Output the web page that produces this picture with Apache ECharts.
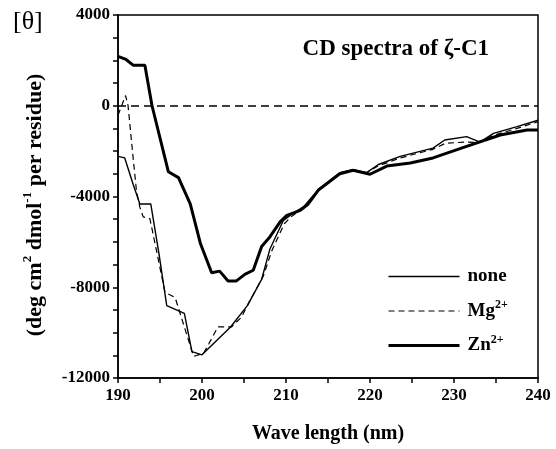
<!DOCTYPE html>
<html><head><meta charset="utf-8">
<script src="https://cdn.jsdelivr.net/npm/echarts@6/dist/echarts.min.js"></script>
<style>html,body{margin:0;padding:0;background:#fff}#c{width:556px;height:449px}</style>
</head><body><div id="c"></div>
<script>
// ---- data ----
const xTicks = [190, 200, 210, 220, 230, 240];
const yTicks = [4000, 0, -4000, -8000, -12000];

const noneNm  = [190, 190.8, 191.8, 192.6, 193.9, 194.9, 195.8, 197.9, 198.8, 200.0, 203.4, 205.4, 207.1, 208.1, 209.7, 210.5, 212.1, 213.9, 216.4, 218.0, 219.6, 221.0, 223.6, 227.5, 228.9, 231.5, 233.1, 234.7, 237.5, 240];
const noneVal = [-2230, -2300, -3460, -4330, -4330, -6570, -8810, -9150, -10840, -10980, -9750, -8810, -7650, -6300, -5050, -4830, -4450, -3680, -2950, -2810, -2950, -2590, -2230, -1870, -1510, -1360, -1600, -1220, -920, -640];

const mgNm  = [190, 190.9, 191.2, 191.8, 192.2, 192.6, 193.0, 193.8, 195.6, 196.8, 199.0, 200.2, 200.8, 201.9, 203.5, 204.7, 205.7, 207.3, 208.3, 209.8, 210.6, 212.1, 213.9, 216.4, 218.0, 219.6, 221.0, 223.6, 227.5, 229.0, 231.5, 233.1, 234.7, 237.5, 240];
const mgVal = [-420, 450, 0, -2300, -3750, -4470, -4900, -4980, -8230, -8450, -11050, -10900, -10500, -9750, -9750, -9320, -8590, -7510, -6400, -5200, -4900, -4500, -3720, -3000, -2850, -2950, -2650, -2300, -1920, -1650, -1600, -1620, -1300, -1000, -700];

const znNm  = [190, 190.95, 191.8, 193.2, 194.05, 196.0, 197.2, 198.6, 199.8, 201.15, 202.1, 203.1, 204.1, 205.1, 206.1, 207.1, 208.1, 209.3, 210.1, 211.7, 212.65, 213.9, 216.4, 218.0, 220.0, 222.0, 224.8, 227.5, 231.5, 235.5, 238.7, 240];
const znVal = [2180, 2040, 1790, 1790, 0, -2910, -3170, -4330, -6060, -7360, -7290, -7720, -7720, -7430, -7250, -6200, -5770, -5120, -4830, -4610, -4330, -3700, -3000, -2850, -3020, -2660, -2520, -2300, -1790, -1290, -1070, -1070];

const seriesNames = ['none', 'Mg2+', 'Zn2+'];
// ---- chart ----
const zip = (a, b) => a.map((v, i) => [v, b[i]]);
const serif = '"Liberation Serif", "DejaVu Serif", serif';
const supStyle = {fontFamily: serif, fontWeight: 'bold', fontSize: 12, padding: [0, 0, 12, 0], color: '#000'};
const chart = echarts.init(document.getElementById('c'), null, {renderer: 'canvas'});
chart.setOption({
  animation: false,
  backgroundColor: '#fff',
  grid: {left: 118, right: 18, top: 15, bottom: 66, show: true, borderColor: '#000', borderWidth: 1.5, backgroundColor: 'transparent'},
  title: {
    text: 'CD spectra of ζ-C1', right: 62, top: 33,
    textStyle: {fontFamily: serif, fontWeight: 'bold', fontSize: 23, color: '#000'}
  },
  legend: {
    orient: 'vertical', left: 382, top: 262, itemWidth: 71, itemHeight: 14, itemGap: 13,
    itemStyle: {opacity: 0},
    data: [
      {name: seriesNames[0], lineStyle: {width: 1.6}},
      {name: seriesNames[1], lineStyle: {width: 1.2}},
      {name: seriesNames[2], lineStyle: {width: 3}}
    ],
    formatter: function (n) {
      if (n === 'Mg2+') return 'Mg{sup|2+}';
      if (n === 'Zn2+') return 'Zn{sup|2+}';
      return n;
    },
    textStyle: {fontFamily: serif, fontWeight: 'bold', fontSize: 19, color: '#000', padding: [0, 0, 0, 3],
      rich: {sup: supStyle}}
  },
  xAxis: {
    type: 'value', min: 190, max: 240, interval: 5,
    axisLine: {onZero: false, lineStyle: {color: '#000', width: 1.5}},
    axisTick: {show: true, length: 5, lineStyle: {color: '#000', width: 1.5}},
    splitLine: {show: false},
    axisLabel: {margin: 9, color: '#000', fontFamily: serif, fontWeight: 'bold', fontSize: 17,
      formatter: v => xTicks.indexOf(v) >= 0 ? String(v) : ''},
    name: 'Wave length (nm)', nameLocation: 'middle', nameGap: 46,
    nameTextStyle: {fontFamily: serif, fontWeight: 'bold', fontSize: 20, color: '#000'}
  },
  yAxis: {
    type: 'value', min: -12000, max: 4000, interval: 1000,
    axisLine: {onZero: false, lineStyle: {color: '#000', width: 1.5}},
    axisTick: {show: true, length: 5, lineStyle: {color: '#000', width: 1.5}},
    splitLine: {show: false},
    axisLabel: {margin: 8, color: '#000', fontFamily: serif, fontWeight: 'bold', fontSize: 17,
      formatter: v => yTicks.indexOf(v) >= 0 ? String(v) : ''}
  },
  graphic: [
    {type: 'text', left: 13, top: 9, style: {text: '[θ]', font: '26px ' + serif, fill: '#000'}},
    {type: 'text', x: 35, y: 205, rotation: Math.PI / 2,
      style: {text: '(deg cm{sup|2} dmol{sup|-1} per residue)', fill: '#000', align: 'center', verticalAlign: 'middle',
        font: 'bold 22px ' + serif,
        rich: {sup: {font: 'bold 13px ' + serif, padding: [0, 0, 14, 0], fill: '#000'}}}}
  ],
  series: [
    {name: 'none', type: 'line', data: zip(noneNm, noneVal), symbol: 'none', lineStyle: {color: '#000', width: 1.4}, itemStyle: {color: '#000'},
      markLine: {silent: true, symbol: 'none', label: {show: false}, lineStyle: {color: '#000', type: [8, 5], width: 1.6},
        data: [[{coord: [190, 0]}, {coord: [240, 0]}]]}},
    {name: 'Mg2+', type: 'line', data: zip(mgNm, mgVal), symbol: 'none', lineStyle: {color: '#000', width: 1.2, type: [6, 4]}, itemStyle: {color: '#000'}},
    {name: 'Zn2+', type: 'line', data: zip(znNm, znVal), symbol: 'none', lineStyle: {color: '#000', width: 3}, itemStyle: {color: '#000'}}
  ]
});
</script></body></html>
